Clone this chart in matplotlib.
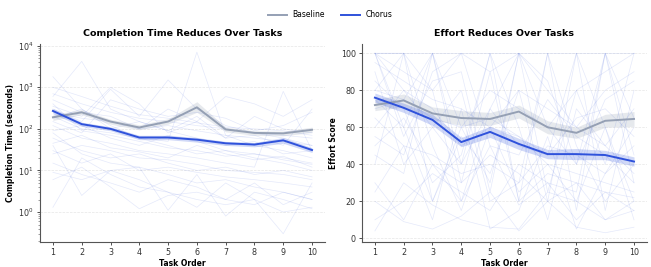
import matplotlib
matplotlib.use("Agg")
import matplotlib.pyplot as plt
import numpy as np

tasks = [1, 2, 3, 4, 5, 6, 7, 8, 9, 10]

# mean lines
time_base = [190, 250, 150, 108, 150, 330, 97, 80, 78, 95]
time_chorus = [270, 130, 100, 62, 62, 55, 45, 42, 53, 31]
time_base_lo = [160, 220, 130, 95, 130, 250, 85, 70, 68, 82]
time_base_hi = [220, 290, 170, 125, 175, 450, 110, 90, 88, 110]
time_chorus_lo = [230, 115, 90, 55, 55, 48, 40, 37, 45, 27]
time_chorus_hi = [310, 145, 112, 70, 70, 62, 50, 47, 62, 35]

effort_base = [72, 74.5, 67.5, 65, 64.5, 68.5, 60, 57, 63.5, 64.5]
effort_chorus = [76, 70.5, 64, 52, 57.5, 51, 45.5, 45.5, 45, 41.5]
effort_base_err = [3, 3.5, 3.5, 4, 3.5, 3.5, 3.5, 3, 3.5, 4]
effort_chorus_err = [2.5, 2.5, 3, 2.5, 3, 3, 2.5, 3, 2.5, 2.5]

# individual participants (background)
time_people = [
    [1800, 300, 120, 60, 40, 25, 30, 20, 15, 10],
    [600, 4200, 300, 150, 90, 60, 40, 50, 25, 30],
    [80, 25, 15, 12, 8, 5, 6, 4, 3, 2],
    [300, 150, 900, 200, 1500, 300, 120, 80, 60, 40],
    [1.3, 20, 8, 4, 3, 2, 1.5, 2, 1, 1.3],
    [40, 2.5, 10, 6, 3, 1.3, 5, 2, 0.3, 5],
    [200, 100, 80, 60, 50, 7000, 70, 40, 30, 20],
    [9, 6, 10, 12, 1.1, 8, 0.8, 3, 2, 1.2],
    [120, 60, 45, 30, 25, 20, 15, 12, 800, 30],
    [500, 250, 200, 100, 300, 150, 600, 400, 200, 500],
    [25, 40, 30, 20, 18, 14, 10, 9, 8, 6],
    [700, 400, 250, 180, 150, 120, 100, 80, 70, 60],
    [60, 30, 20, 25, 15, 10, 12, 8, 10, 7],
    [150, 80, 500, 300, 200, 250, 180, 90, 120, 250],
    [15, 8, 5, 3, 6, 4, 2, 1.5, 3, 2],
    [350, 200, 1000, 400, 80, 150, 60, 200, 100, 80],
    [90, 120, 60, 40, 70, 50, 30, 25, 20, 15],
    [6, 12, 4, 1.2, 2.5, 3, 2, 5, 1.5, 3],
    [250, 180, 150, 100, 120, 90, 70, 60, 50, 40],
    [45, 70, 35, 28, 20, 40, 25, 18, 22, 12],
    [1000, 600, 350, 220, 180, 140, 110, 100, 90, 70],
    [30, 15, 25, 10, 12, 9, 7, 6, 5, 4],
    [400, 90, 70, 50, 35, 30, 22, 25, 18, 14],
    [180, 300, 100, 150, 90, 200, 60, 70, 40, 300],
]
effort_people = [
    [100, 100, 100, 100, 100, 100, 100, 100, 100, 100],
    [100, 60, 100, 40, 100, 20, 100, 15, 100, 30],
    [80, 100, 20, 60, 30, 100, 25, 80, 40, 100],
    [20, 9, 5, 12, 25, 4, 20, 6, 3, 6],
    [60, 80, 70, 50, 60, 55, 40, 35, 30, 25],
    [100, 90, 80, 20, 70, 50, 45, 100, 60, 20],
    [4, 30, 18, 10, 6, 5, 25, 20, 10, 15],
    [70, 75, 100, 60, 80, 70, 60, 40, 100, 65],
    [90, 40, 60, 80, 20, 30, 100, 50, 20, 40],
    [50, 65, 40, 30, 45, 35, 20, 30, 25, 22],
    [100, 100, 80, 100, 90, 100, 80, 60, 80, 90],
    [30, 10, 40, 20, 50, 18, 30, 10, 25, 15],
    [85, 70, 30, 45, 100, 60, 10, 70, 50, 35],
    [65, 50, 45, 35, 40, 30, 50, 45, 35, 50],
    [95, 85, 75, 70, 60, 80, 70, 60, 50, 70],
    [40, 100, 50, 15, 60, 25, 40, 20, 60, 10],
    [75, 60, 20, 55, 35, 80, 20, 100, 15, 80],
    [10, 20, 35, 25, 15, 40, 30, 25, 100, 45],
    [100, 80, 60, 40, 70, 100, 60, 80, 90, 100],
    [55, 45, 90, 100, 50, 45, 75, 55, 45, 30],
    [25, 50, 10, 70, 5, 15, 55, 5, 35, 60],
    [80, 75, 65, 60, 65, 55, 45, 65, 70, 55],
    [45, 35, 100, 30, 90, 20, 35, 30, 10, 20],
    [100, 55, 85, 90, 25, 100, 85, 40, 75, 85],
]

BLUE = "#2f52db"
GRAY = "#95a0b4"
SPINE = "#555555"

fig = plt.figure(figsize=(6.51, 2.67), dpi=100)
ax1 = fig.add_axes([0.0614, 0.0936, 0.4378, 0.7416])
ax2 = fig.add_axes([0.556, 0.0936, 0.4378, 0.7416])


def style(ax):
    for s in ["top", "right"]:
        ax.spines[s].set_visible(False)
    for s in ["left", "bottom"]:
        ax.spines[s].set_color(SPINE)
        ax.spines[s].set_linewidth(0.8)
    ax.tick_params(labelsize=5.8, colors="#333333", length=2.5, width=0.6, pad=2)
    ax.yaxis.grid(True, which="major", linestyle="--", color="#e6e6e6", linewidth=0.5)
    ax.set_axisbelow(True)
    ax.set_xticks(tasks)
    ax.set_xlim(0.55, 10.45)
    ax.set_xlabel("Task Order", fontsize=5.5, fontweight="bold", labelpad=1)


# left panel
x = np.array(tasks)
for row in time_people:
    ax1.plot(x, row, color=BLUE, alpha=0.13, linewidth=0.5)
ax1.fill_between(x, time_base_lo, time_base_hi, color="#d3d7df", alpha=0.55, linewidth=0)
ax1.fill_between(x, time_chorus_lo, time_chorus_hi, color=BLUE, alpha=0.22, linewidth=0)
ax1.plot(x, time_base, color=GRAY, linewidth=1.4, label="Baseline")
ax1.plot(x, time_chorus, color=BLUE, linewidth=1.4, label="Chorus")
ax1.set_yscale("log")
ax1.set_ylim(0.19, 1.1e4)
ax1.tick_params(axis="y", which="minor", length=1.5, width=0.4, colors="#555555")
ax1.set_ylabel("Completion Time (seconds)", fontsize=5.5, fontweight="bold", labelpad=2)
ax1.set_title("Completion Time Reduces Over Tasks", fontsize=6.8, fontweight="bold", pad=6)
style(ax1)

# right panel
for row in effort_people:
    ax2.plot(x, row, color=BLUE, alpha=0.13, linewidth=0.5)
eb = np.array(effort_base)
ec = np.array(effort_chorus)
ax2.fill_between(x, eb - np.array(effort_base_err), eb + np.array(effort_base_err),
                 color="#d3d7df", alpha=0.55, linewidth=0)
ax2.fill_between(x, ec - np.array(effort_chorus_err), ec + np.array(effort_chorus_err),
                 color=BLUE, alpha=0.22, linewidth=0)
ax2.plot(x, eb, color=GRAY, linewidth=1.4)
ax2.plot(x, ec, color=BLUE, linewidth=1.4)
ax2.set_ylim(-2, 105)
ax2.set_yticks([0, 20, 40, 60, 80, 100])
ax2.set_ylabel("Effort Score", fontsize=5.5, fontweight="bold", labelpad=2)
ax2.set_title("Effort Reduces Over Tasks", fontsize=6.8, fontweight="bold", pad=6)
style(ax2)

fig.legend(loc="center", bbox_to_anchor=(0.507, 0.944), ncol=2, frameon=False,
           fontsize=5.5, handlelength=2.5, columnspacing=2)

fig.savefig("out.png", dpi=100)
